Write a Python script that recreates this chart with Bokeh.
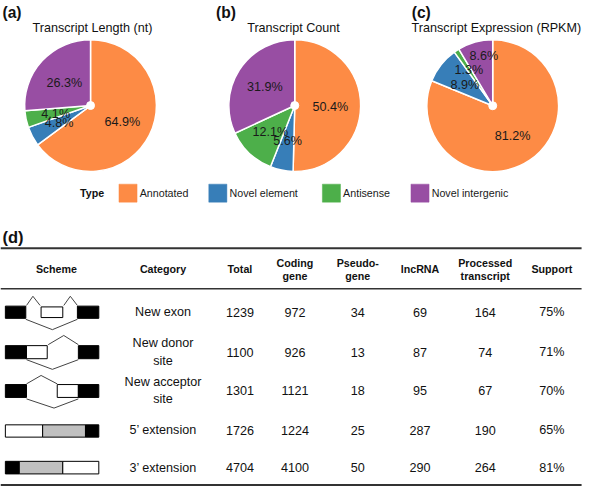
import math
from bokeh.plotting import figure
from bokeh.models import Range1d, ColumnDataSource
from bokeh.core.properties import value
from bokeh.embed import file_html
from bokeh.resources import INLINE

# ---------------- data ----------------
types = ["Annotated", "Novel element", "Antisense", "Novel intergenic"]
type_colors = ["#FD8B45", "#377EB8", "#4DAF4A", "#984EA3"]
pie_titles = ["Transcript Length (nt)", "Transcript Count", "Transcript Expression (RPKM)"]
pie_tags = ["(a)", "(b)", "(c)"]
length_pct = [64.9, 4.8, 4.1, 26.3]
count_pct = [50.4, 5.6, 12.1, 31.9]
expr_pct = [81.2, 8.9, 1.3, 8.6]

header_cols = ["Scheme", "Category", "Total", "Coding\ngene", "Pseudo-\ngene",
               "lncRNA", "Processed\ntranscript", "Support"]
category = ["New exon", "New donor\nsite", "New acceptor\nsite",
            "5\u2019 extension", "3\u2019 extension"]
total = [1239, 1100, 1301, 1726, 4704]
coding_gene = [972, 926, 1121, 1224, 4100]
pseudogene = [34, 13, 18, 25, 50]
lncrna = [69, 87, 95, 287, 290]
processed = [164, 74, 67, 190, 264]
support = [75, 71, 70, 65, 81]

# ---------------- figure ----------------
W, H = 600, 502
p = figure(width=584, height=486, x_range=Range1d(0, W), y_range=Range1d(0, H),
           output_backend="svg", toolbar_location=None, min_border=0,
           x_axis_location=None, y_axis_location=None)
p.grid.visible = False
p.outline_line_color = None
p.background_fill_color = "white"

FONT = value("Liberation Sans")
S = 0.972  # pixel scale of frame


def Y(v):
    return H - v


def fs(px):
    return value(f"{px * S:.1f}px")


def txt(x, y, s, size, bold=False, align="center", color="#111111"):
    p.text(x=[x], y=[Y(y)], text=[s], text_font=FONT, text_font_size=fs(size),
           text_font_style="bold" if bold else "normal", text_align=align,
           text_baseline="middle", text_color=color)


# ---------------- pies ----------------
pie_values = [length_pct, count_pct, expr_pct]
centers = [(92.5, 108.5), (302.3, 108.5), (505.7, 108.7)]
R = 67.7
title_x = [94.5, 301, 509.5]
tag_x = [2, 221.5, 422.5]
# small manual nudges of crowded labels (pie index, slice index) -> (dx, dy)
label_nudge = {(2, 2): (-4.5, -7.0), (2, 3): (0.7, -17.0)}
for k, vals in enumerate(pie_values):
    cx, cy = centers[k]
    tot = sum(vals)
    cum = 0.0
    starts, ends, lx, ly, labels = [], [], [], [], []
    for i, v in enumerate(vals):
        t0 = cum / tot * 360.0
        cum += v
        t1 = cum / tot * 360.0
        starts.append(math.radians(90 - t1))
        ends.append(math.radians(90 - t0))
        tm = math.radians((t0 + t1) / 2)
        r = 0.54 * R
        dx, dy = label_nudge.get((k, i), (0.0, 0.0))
        lx.append(cx + r * math.sin(tm) + dx)
        ly.append(Y(cy - r * math.cos(tm) + 1.0 + dy))
        labels.append(f"{v:.1f}%")
    src = ColumnDataSource(dict(x=[cx] * len(vals), y=[Y(cy)] * len(vals),
                                start=starts, end=ends, color=type_colors))
    p.wedge(x="x", y="y", radius=R, start_angle="start", end_angle="end",
            fill_color="color", line_color="white", line_width=1.5, source=src)
    p.scatter(x=[cx], y=[Y(cy)], size=8, marker="circle", fill_color="white", line_color="white")
    p.text(x=lx, y=ly, text=labels, text_font=FONT, text_font_size=fs(13),
           text_align="center", text_baseline="middle", text_color="#1a1a1a")
    txt(title_x[k], 28, pie_titles[k], 13)
    txt(tag_x[k], 12, pie_tags[k], 16, bold=True, align="left")

# ---------------- legend ----------------
txt(81.7, 199, "Type", 11, bold=True, align="left")
sw_x = [121.7, 214.0, 330.7, 421.7]
for i, t in enumerate(types):
    p.quad(left=[sw_x[i]], right=[sw_x[i] + 18.6], top=[Y(189.7)], bottom=[Y(208.3)],
           fill_color=type_colors[i], line_color=type_colors[i], line_alpha=0.45, line_width=1)
    txt(sw_x[i] + 21.3, 199, t, 11, align="left", color="#1a1a1a")

# ---------------- table ----------------
txt(2, 244, "(d)", 17, bold=True, align="left")
p.segment(x0=[0], x1=[597], y0=[Y(256)], y1=[Y(256)], line_color="#333333", line_width=2)
p.segment(x0=[0], x1=[597], y0=[Y(297.7)], y1=[Y(297.7)], line_color="#333333", line_width=1.6)
p.segment(x0=[0], x1=[597], y0=[Y(500.6)], y1=[Y(500.6)], line_color="#333333", line_width=2.4)

col_x = [57.5, 167, 246, 302.5, 367, 431, 498, 566.5]
for j, h in enumerate(header_cols):
    parts = h.split("\n")
    if len(parts) == 1:
        txt(col_x[j], 277.7, parts[0], 11, bold=True)
    else:
        txt(col_x[j], 271.5, parts[0], 11, bold=True)
        txt(col_x[j], 285.0, parts[1], 11, bold=True)

row_y = [322, 363.5, 403.3, 444, 482.7]
for i in range(len(category)):
    parts = category[i].split("\n")
    if len(parts) == 1:
        txt(col_x[1], row_y[i], parts[0], 13)
    else:
        txt(col_x[1], row_y[i] - 9.5, parts[0], 13)
        txt(col_x[1], row_y[i] + 8.5, parts[1], 13)
    vals = [str(total[i]), str(coding_gene[i]), str(pseudogene[i]), str(lncrna[i]),
            str(processed[i]), f"{support[i]}%"]
    for j, v in enumerate(vals):
        txt(col_x[j + 2], row_y[i], v, 13)

# ---------------- schemes (drawing) ----------------
BLK, WHT, GRY = "black", "white", "#C0C0C0"
boxes = [
    (5, 26, 315.7, 328.3, BLK), (41.7, 64, 316.5, 327.5, WHT), (79, 101, 315.7, 328.3, BLK),
    (5, 26.7, 356.5, 370, BLK), (26.7, 48, 356.5, 370, WHT), (80, 101, 356.5, 370, BLK),
    (5, 26.7, 396.7, 410, BLK), (58.3, 80, 396.7, 410, WHT), (80, 101, 396.7, 410, BLK),
    (5, 43.3, 438.3, 451, WHT), (43.3, 87.3, 438.3, 451, GRY), (87.3, 101, 438.3, 451, BLK),
    (5, 19.3, 476, 489, BLK), (19.3, 64, 476, 489, GRY), (64, 101, 476, 489, WHT),
]
p.quad(left=[b[0] for b in boxes], right=[b[1] for b in boxes],
       top=[Y(b[2]) for b in boxes], bottom=[Y(b[3]) for b in boxes],
       fill_color=[b[4] for b in boxes], line_color="black", line_width=1)
introns = [
    [(26.7, 315), (33.3, 305.5), (40.7, 315)],
    [(65, 315), (71.7, 305.5), (79, 315)],
    [(26, 329.3), (53.3, 340), (79, 329.3)],
    [(49, 355.5), (65, 346), (80, 355.5)],
    [(26.7, 371), (53.3, 381), (80, 371)],
    [(26.7, 396), (41.7, 387.3), (58.3, 396)],
    [(26.7, 411.5), (55, 421), (80, 411.5)],
]
p.multi_line(xs=[[pt[0] for pt in ln] for ln in introns],
             ys=[[Y(pt[1]) for pt in ln] for ln in introns],
             line_color="#444444", line_width=1)

open("out.html", "w").write(file_html(p, INLINE))
